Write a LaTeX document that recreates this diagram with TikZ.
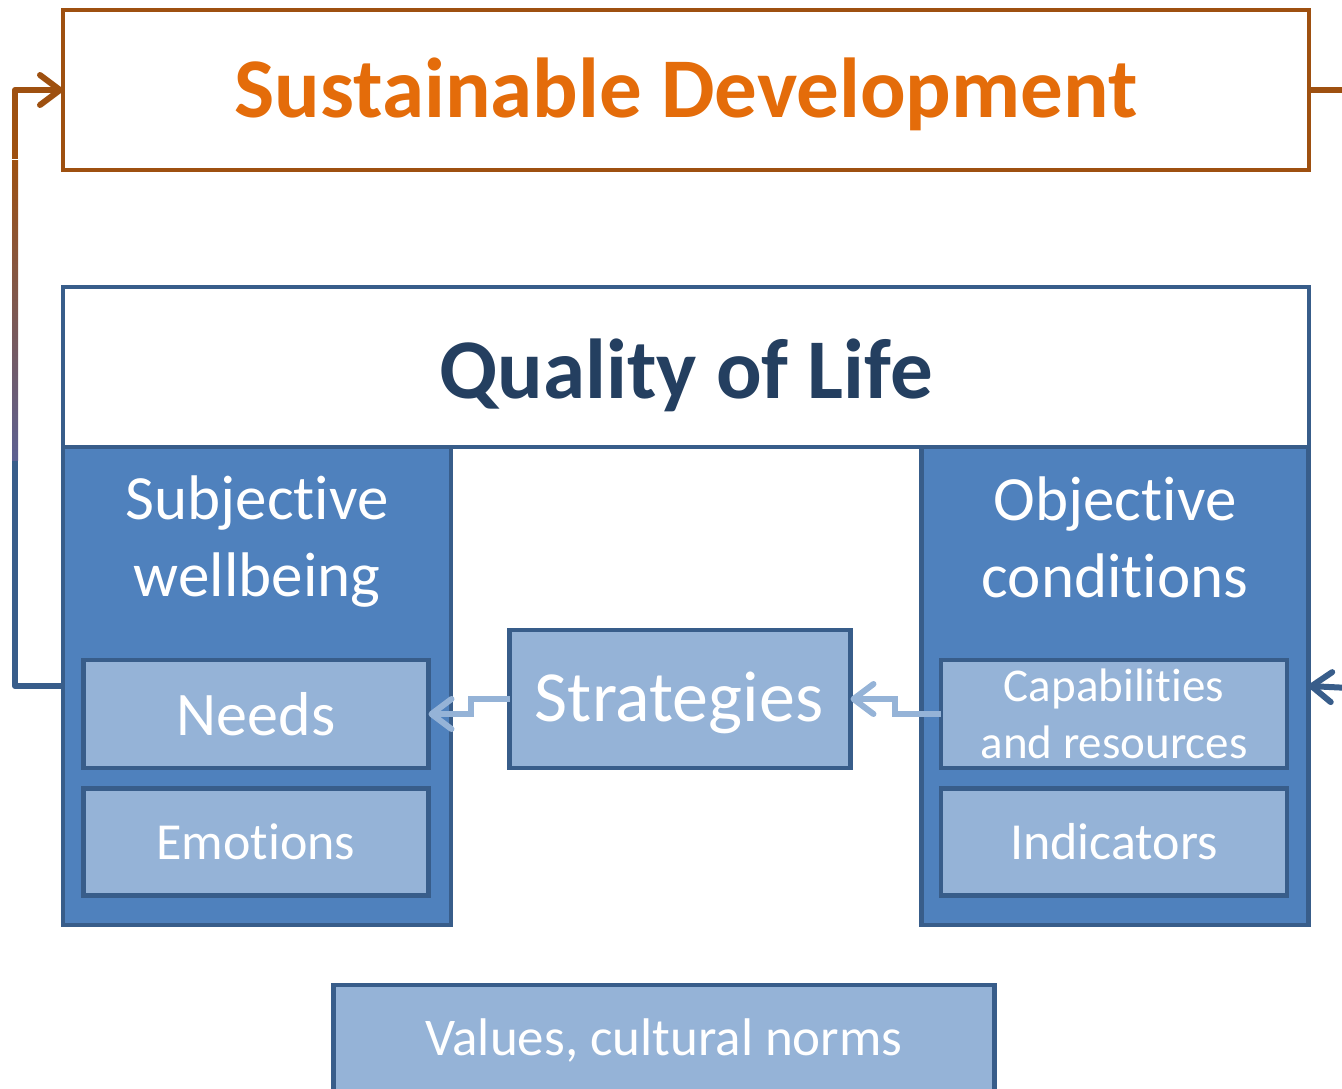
\documentclass[tikz,border=0pt]{standalone}
\usepackage{fontspec}
\setmainfont{Carlito}[Ligatures=NoCommon]
\usetikzlibrary{arrows.meta}
\definecolor{sdline}{RGB}{158,80,16}
\definecolor{sdtext}{RGB}{228,108,10}
\definecolor{qolline}{RGB}{56,93,138}
\definecolor{qoltext}{RGB}{36,63,96}
\definecolor{colfill}{RGB}{79,129,189}
\definecolor{boxfill}{RGB}{149,179,215}
\definecolor{gradblue}{RGB}{92,96,146}
\newcommand\fsz[2]{\fontsize{#1}{#2}\selectfont}

\begin{document}
\begin{tikzpicture}[x=1pt, y=-1pt, inner sep=0pt, outer sep=0pt,
  sdbox/.style={draw=sdline, line width=4.5pt, fill=white},
  qolbox/.style={draw=qolline, line width=4.5pt, fill=white},
  colbox/.style={draw=qolline, line width=4.5pt, fill=colfill},
  subbox/.style={draw=qolline, line width=4.5pt, fill=boxfill, text=white, align=center},
  coltext/.style={text=white, align=center},
  openarrow/.style={-{Straight Barb[length=20pt,width=30pt,line cap=round,line join=round]}},
  lightarrow/.style={draw=boxfill, line width=6pt, openarrow},
  darkarrow/.style={draw=qolline, line width=6pt, openarrow}]
\useasboundingbox (0,0) rectangle (1342,1088);

% top box
\node[sdbox, minimum width=1246, minimum height=160] (sd) at (686,90) {};
\node[text=sdtext, font=\fsz{85}{100}\bfseries] (sdt) at (686,94) {Sustainable Development};

% quality of life
\node[qolbox, minimum width=1246, minimum height=160] (qol) at (686,367) {};
\node[text=qoltext, font=\fsz{85}{100}\bfseries] (qolt) at (686,375) {Quality of Life};
\node[colbox, minimum width=388, minimum height=478] (subj) at (257,686) {};
\node[colbox, minimum width=387, minimum height=478] (obj) at (1115,686) {};
\node[coltext, font=\fsz{63}{77}] (subjt) at (257,542) {Subjective\\wellbeing};
\node[coltext, font=\fsz{63}{77}] (objt) at (1115,537) {Objective\\conditions};

\node[subbox, minimum width=345, minimum height=108, font=\fsz{62}{70}] (needs) at (256,714) {Needs};
\node[subbox, minimum width=345, minimum height=107, font=\fsz{52}{60}] (emo) at (256,842) {Emotions};
\node[subbox, minimum width=346, minimum height=108, font=\fsz{47}{57}] (cap) at (1114,714)
  {Capabilities\\and resources};
\node[subbox, minimum width=346, minimum height=107, font=\fsz{52}{60}] (ind) at (1114,842) {Indicators};
\node[subbox, minimum width=341, minimum height=138] (strat) at (680,699) {};
\node[text=white, font=\fsz{72}{80}] (stratt) at (679,703) {Strategies};

\node[subbox, minimum width=661, minimum height=110, font=\fsz{53}{60}] (vals) at (664,1040)
  {Values, cultural norms};

% connectors
\draw[lightarrow] (strat.west) -- ++(-39,0) |- (needs.east);
\draw[lightarrow] (cap.west) -- ++(-46,0) |- (strat.east);

\coordinate (rin) at (1350,688);
\draw[darkarrow] (rin) -- (obj.east);
\coordinate (rout) at (1350,90);
\draw[draw=sdline, line width=6pt] (sd.east) -- (rout);

\coordinate (gb) at (15,460);
\coordinate (gt) at (15,160);
\draw[draw=qolline, line width=6pt, line join=round] (subj.west) -| ([yshift=-1pt]gb);
\shade[top color=sdline, bottom color=gradblue] ([xshift=-3pt]gt) rectangle ([xshift=3pt]gb);
\draw[draw=sdline, line width=6pt, line join=round, openarrow] ([yshift=1pt]gt) |- (sd.west);
\end{tikzpicture}
\end{document}
